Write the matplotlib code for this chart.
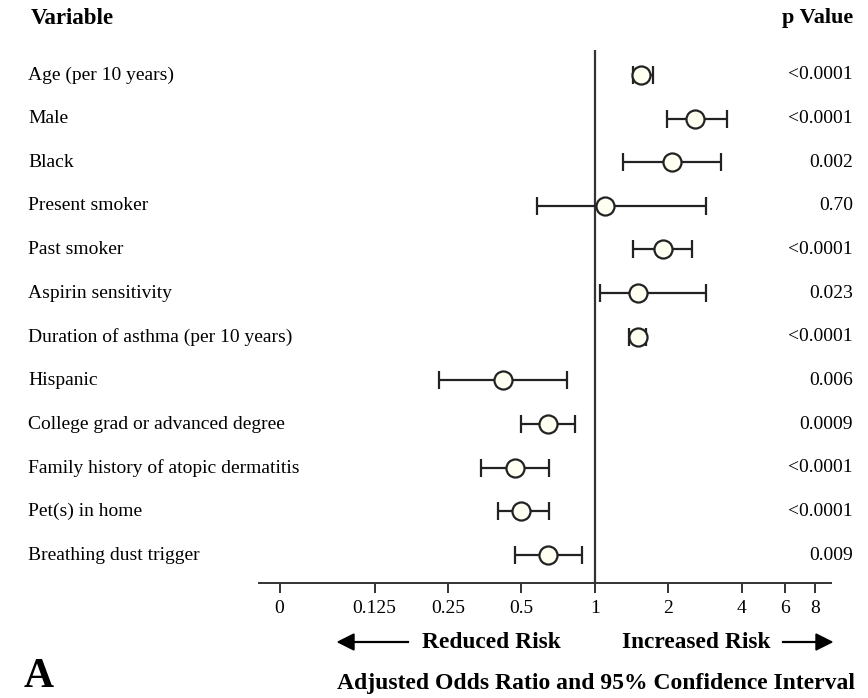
import matplotlib.pyplot as plt

# Adjusted odds ratios with 95% CI
variables = ['Age (per 10 years)', 'Male', 'Black', 'Present smoker', 'Past smoker',
             'Aspirin sensitivity', 'Duration of asthma (per 10 years)', 'Hispanic',
             'College grad or advanced degree', 'Family history of atopic dermatitis',
             'Pet(s) in home', 'Breathing dust trigger']
odds = [1.55, 2.58, 2.08, 1.10, 1.90, 1.51, 1.51, 0.42, 0.64, 0.47, 0.50, 0.64]
ci_low = [1.44, 1.98, 1.30, 0.58, 1.44, 1.05, 1.38, 0.23, 0.50, 0.34, 0.40, 0.47]
ci_high = [1.73, 3.50, 3.30, 2.85, 2.50, 2.85, 1.62, 0.77, 0.83, 0.65, 0.65, 0.89]
p_values = ['<0.0001', '<0.0001', '0.002', '0.70', '<0.0001', '0.023', '<0.0001',
            '0.006', '0.0009', '<0.0001', '<0.0001', '0.009']
tick_vals = [0.051, 0.125, 0.25, 0.5, 1, 2, 4, 6, 8]
tick_labels = ['0', '0.125', '0.25', '0.5', '1', '2', '4', '6', '8']

plt.rcParams['font.family'] = ['Liberation Serif', 'DejaVu Serif']

W, H = 868, 698
fig = plt.figure(figsize=(W / 100, H / 100), dpi=100)
ax = fig.add_axes([259/W, 115/H, 572/W, 533/H])

rows = list(range(len(variables)))
err = [[o - l for o, l in zip(odds, ci_low)], [h - o for o, h in zip(odds, ci_high)]]
ax.errorbar(odds, rows, xerr=err, fmt='o', color='#222222', ecolor='#222222',
            elinewidth=1.6, capsize=6.5, capthick=1.6, markersize=13,
            markerfacecolor='#fffff2', markeredgecolor='#222222', markeredgewidth=1.6, zorder=3)
ax.axvline(1, color='#333333', lw=1.6, zorder=1)

ax.set_xscale('log', base=2)
ax.set_xlim(0.042, 9.3)
ax.set_ylim(11.64, -0.57)
ax.set_xticks(tick_vals)
ax.set_xticklabels(tick_labels)
ax.minorticks_off()
ax.tick_params(axis='x', length=7, width=1.4, color='#333333', labelsize=14, pad=5)
ax.set_yticks([])
for s in ['left', 'right', 'top']:
    ax.spines[s].set_visible(False)
ax.spines['bottom'].set_linewidth(1.4)
ax.spines['bottom'].set_color('#333333')

# row labels and p values
for i, (v, p) in enumerate(zip(variables, p_values)):
    y = ax.transData.transform((1, i))[1] / fig.dpi / (H / 100)
    fig.text(28/W, y, v, fontsize=14, va='center', ha='left')
    fig.text(853/W, y, p, fontsize=14, va='center', ha='right')

fig.text(31/W, 1 - 18/H, 'Variable', fontsize=16.5, fontweight='bold', va='center')
fig.text(853/W, 1 - 18/H, 'p Value', fontsize=16, fontweight='bold', va='center', ha='right')

# risk direction labels with arrows
ya = 1 - 642/H
fig.text(422/W, ya, 'Reduced Risk', fontsize=16.8, fontweight='bold', va='center', ha='left')
fig.text(622/W, ya, 'Increased Risk', fontsize=16.8, fontweight='bold', va='center', ha='left')
fig.add_artist(plt.Line2D([350/W, 408/W], [ya, ya], color='black', lw=1.6))
fig.add_artist(plt.Line2D([783/W, 820/W], [ya, ya], color='black', lw=1.6))
fig.patches.append(plt.Polygon([[338/W, ya], [354/W, ya + 8/H], [354/W, ya - 8/H]],
                               closed=True, color='black', transform=fig.transFigure, figure=fig))
fig.patches.append(plt.Polygon([[832/W, ya], [816/W, ya + 8/H], [816/W, ya - 8/H]],
                               closed=True, color='black', transform=fig.transFigure, figure=fig))

fig.text(596/W, 1 - 684/H, 'Adjusted Odds Ratio and 95% Confidence Interval',
         fontsize=17, fontweight='bold', va='center', ha='center')
fig.text(24/W, 1 - 677/H, 'A', fontsize=30, fontweight='bold', va='center', ha='left')

fig.savefig('out.png', dpi=100)
